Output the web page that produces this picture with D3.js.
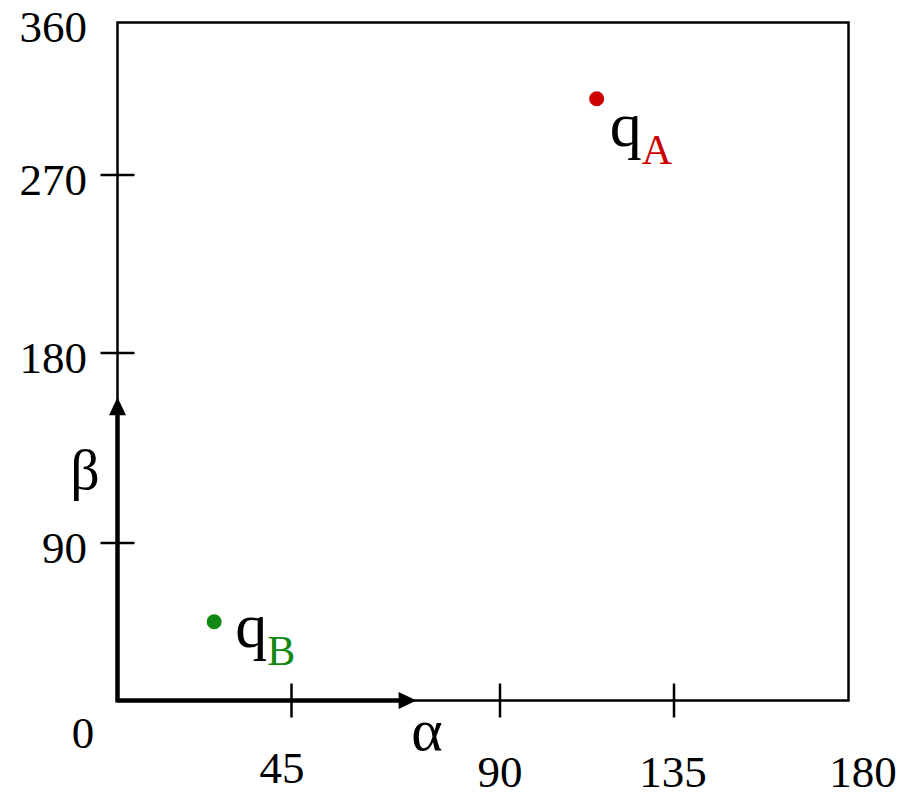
<!DOCTYPE html>
<html><head><meta charset="utf-8"><script src="https://cdn.jsdelivr.net/npm/d3@7"></script></head>
<body style="margin:0">
<script>
// tick values on each axis
var alphaTicks = [0, 45, 90, 135, 180];
var betaTicks = [0, 90, 180, 270, 360];

// the two configurations
var pointNames = ["A", "B"];
var pointAlpha = [115, 25];
var pointBeta = [315, 45];
var pointColors = ["#cc0000", "#118811"];

// where the alpha / beta arrows end (in degrees)
var arrowEnds = [72, 159];

var width = 897, height = 796;
var fonts = ["Liberation Serif", "Tinos"];
function face() { return fonts.map(function(f) { return "'" + f + "'"; }).join(", ") + ", serif"; }

var svg = d3.select("body").append("svg")
  .attr("width", width)
  .attr("height", height);

// the figure is hand spaced, so the scales are piecewise
var x = d3.scaleLinear().domain(alphaTicks).range([117.5, 291.5, 500, 674, 848.5]);
var y = d3.scaleLinear().domain(betaTicks).range([700.5, 543, 353, 175, 22.5]);

// frame
svg.append("rect")
  .attr("x", x(0))
  .attr("y", y(360))
  .attr("width", x(180) - x(0))
  .attr("height", y(0) - y(360))
  .attr("fill", "none")
  .attr("stroke", "#000")
  .attr("stroke-width", 2.5);

// ticks crossing the axis lines
var tick = 17;
svg.append("g")
  .selectAll("line")
  .data(alphaTicks.slice(1, 4))
  .enter().append("line")
  .attr("x1", function(d) { return x(d); })
  .attr("x2", function(d) { return x(d); })
  .attr("y1", y(0) - tick)
  .attr("y2", y(0) + tick)
  .attr("stroke", "#000")
  .attr("stroke-width", 2.5);

svg.append("g")
  .selectAll("line")
  .data(betaTicks.slice(1, 4))
  .enter().append("line")
  .attr("y1", function(d) { return y(d); })
  .attr("y2", function(d) { return y(d); })
  .attr("x1", x(0) - tick)
  .attr("x2", x(0) + tick)
  .attr("stroke", "#000")
  .attr("stroke-width", 2.5);

// y tick labels
svg.append("g")
  .selectAll("text")
  .data(betaTicks.slice(1))
  .enter().append("text")
  .attr("x", 87)
  .attr("y", function(d) { return y(d) + 19.5; })
  .attr("text-anchor", "end")
  .attr("font-size", 45)
  .style("font-family", face)
  .text(function(d) { return d; });

// x labels sit a bit irregularly in the original
var xNudge = { 0: [-34.5, 47.5], 45: [-9.5, 82.5], 90: [0, 86.5], 135: [-1, 86.5], 180: [14.5, 86.5] };
svg.append("g")
  .selectAll("text")
  .data(alphaTicks)
  .enter().append("text")
  .attr("x", function(d) { return x(d) + xNudge[d][0]; })
  .attr("y", function(d) { return y(0) + xNudge[d][1]; })
  .attr("text-anchor", "middle")
  .attr("font-size", 45)
  .style("font-family", face)
  .text(function(d) { return d; });

// thick alpha / beta arrows
var head = 18, half = 8.5;
svg.append("line")
  .attr("x1", x(0)).attr("y1", y(0))
  .attr("x2", x(arrowEnds[0]) - head + 2).attr("y2", y(0))
  .attr("stroke", "#000").attr("stroke-width", 4.5);
svg.append("path")
  .attr("d", "M" + x(arrowEnds[0]) + "," + y(0) +
    "L" + (x(arrowEnds[0]) - head) + "," + (y(0) - half) +
    "L" + (x(arrowEnds[0]) - head) + "," + (y(0) + half) + "Z")
  .attr("fill", "#000");

svg.append("line")
  .attr("x1", x(0)).attr("y1", y(0) + 2)
  .attr("x2", x(0)).attr("y2", y(arrowEnds[1]) + head - 2)
  .attr("stroke", "#000").attr("stroke-width", 4.5);
svg.append("path")
  .attr("d", "M" + x(0) + "," + y(arrowEnds[1]) +
    "L" + (x(0) - half) + "," + (y(arrowEnds[1]) + head) +
    "L" + (x(0) + half) + "," + (y(arrowEnds[1]) + head) + "Z")
  .attr("fill", "#000");

// axis names
svg.append("text")
  .attr("x", 427)
  .attr("y", 750)
  .attr("text-anchor", "middle")
  .attr("font-size", 60)
  .style("font-family", face)
  .text("α");

svg.append("text")
  .attr("x", 85)
  .attr("y", 489)
  .attr("text-anchor", "middle")
  .attr("font-size", 58)
  .style("font-family", face)
  .text("β");

// points
var points = pointNames.map(function(n, i) {
  return { name: n, alpha: pointAlpha[i], beta: pointBeta[i], color: pointColors[i] };
});

svg.selectAll(".pt")
  .data(points)
  .enter().append("circle")
  .attr("class", "pt")
  .attr("cx", function(d) { return x(d.alpha); })
  .attr("cy", function(d) { return y(d.beta); })
  .attr("r", 7.5)
  .attr("fill", function(d) { return d.color; });

// q labels, offset from each dot
var labelOff = { A: [13, 47], B: [21, 25] };
var lbl = svg.selectAll(".lbl")
  .data(points)
  .enter().append("text")
  .attr("class", "lbl")
  .attr("x", function(d) { return x(d.alpha) + labelOff[d.name][0]; })
  .attr("y", function(d) { return y(d.beta) + labelOff[d.name][1]; })
  .attr("font-size", 64)
  .style("font-family", face);

lbl.append("tspan").text("q");
lbl.append("tspan")
  .attr("dy", 18)
  .attr("font-size", 42)
  .attr("fill", function(d) { return d.color; })
  .text(function(d) { return d.name; });
</script>
</body>
</html>
